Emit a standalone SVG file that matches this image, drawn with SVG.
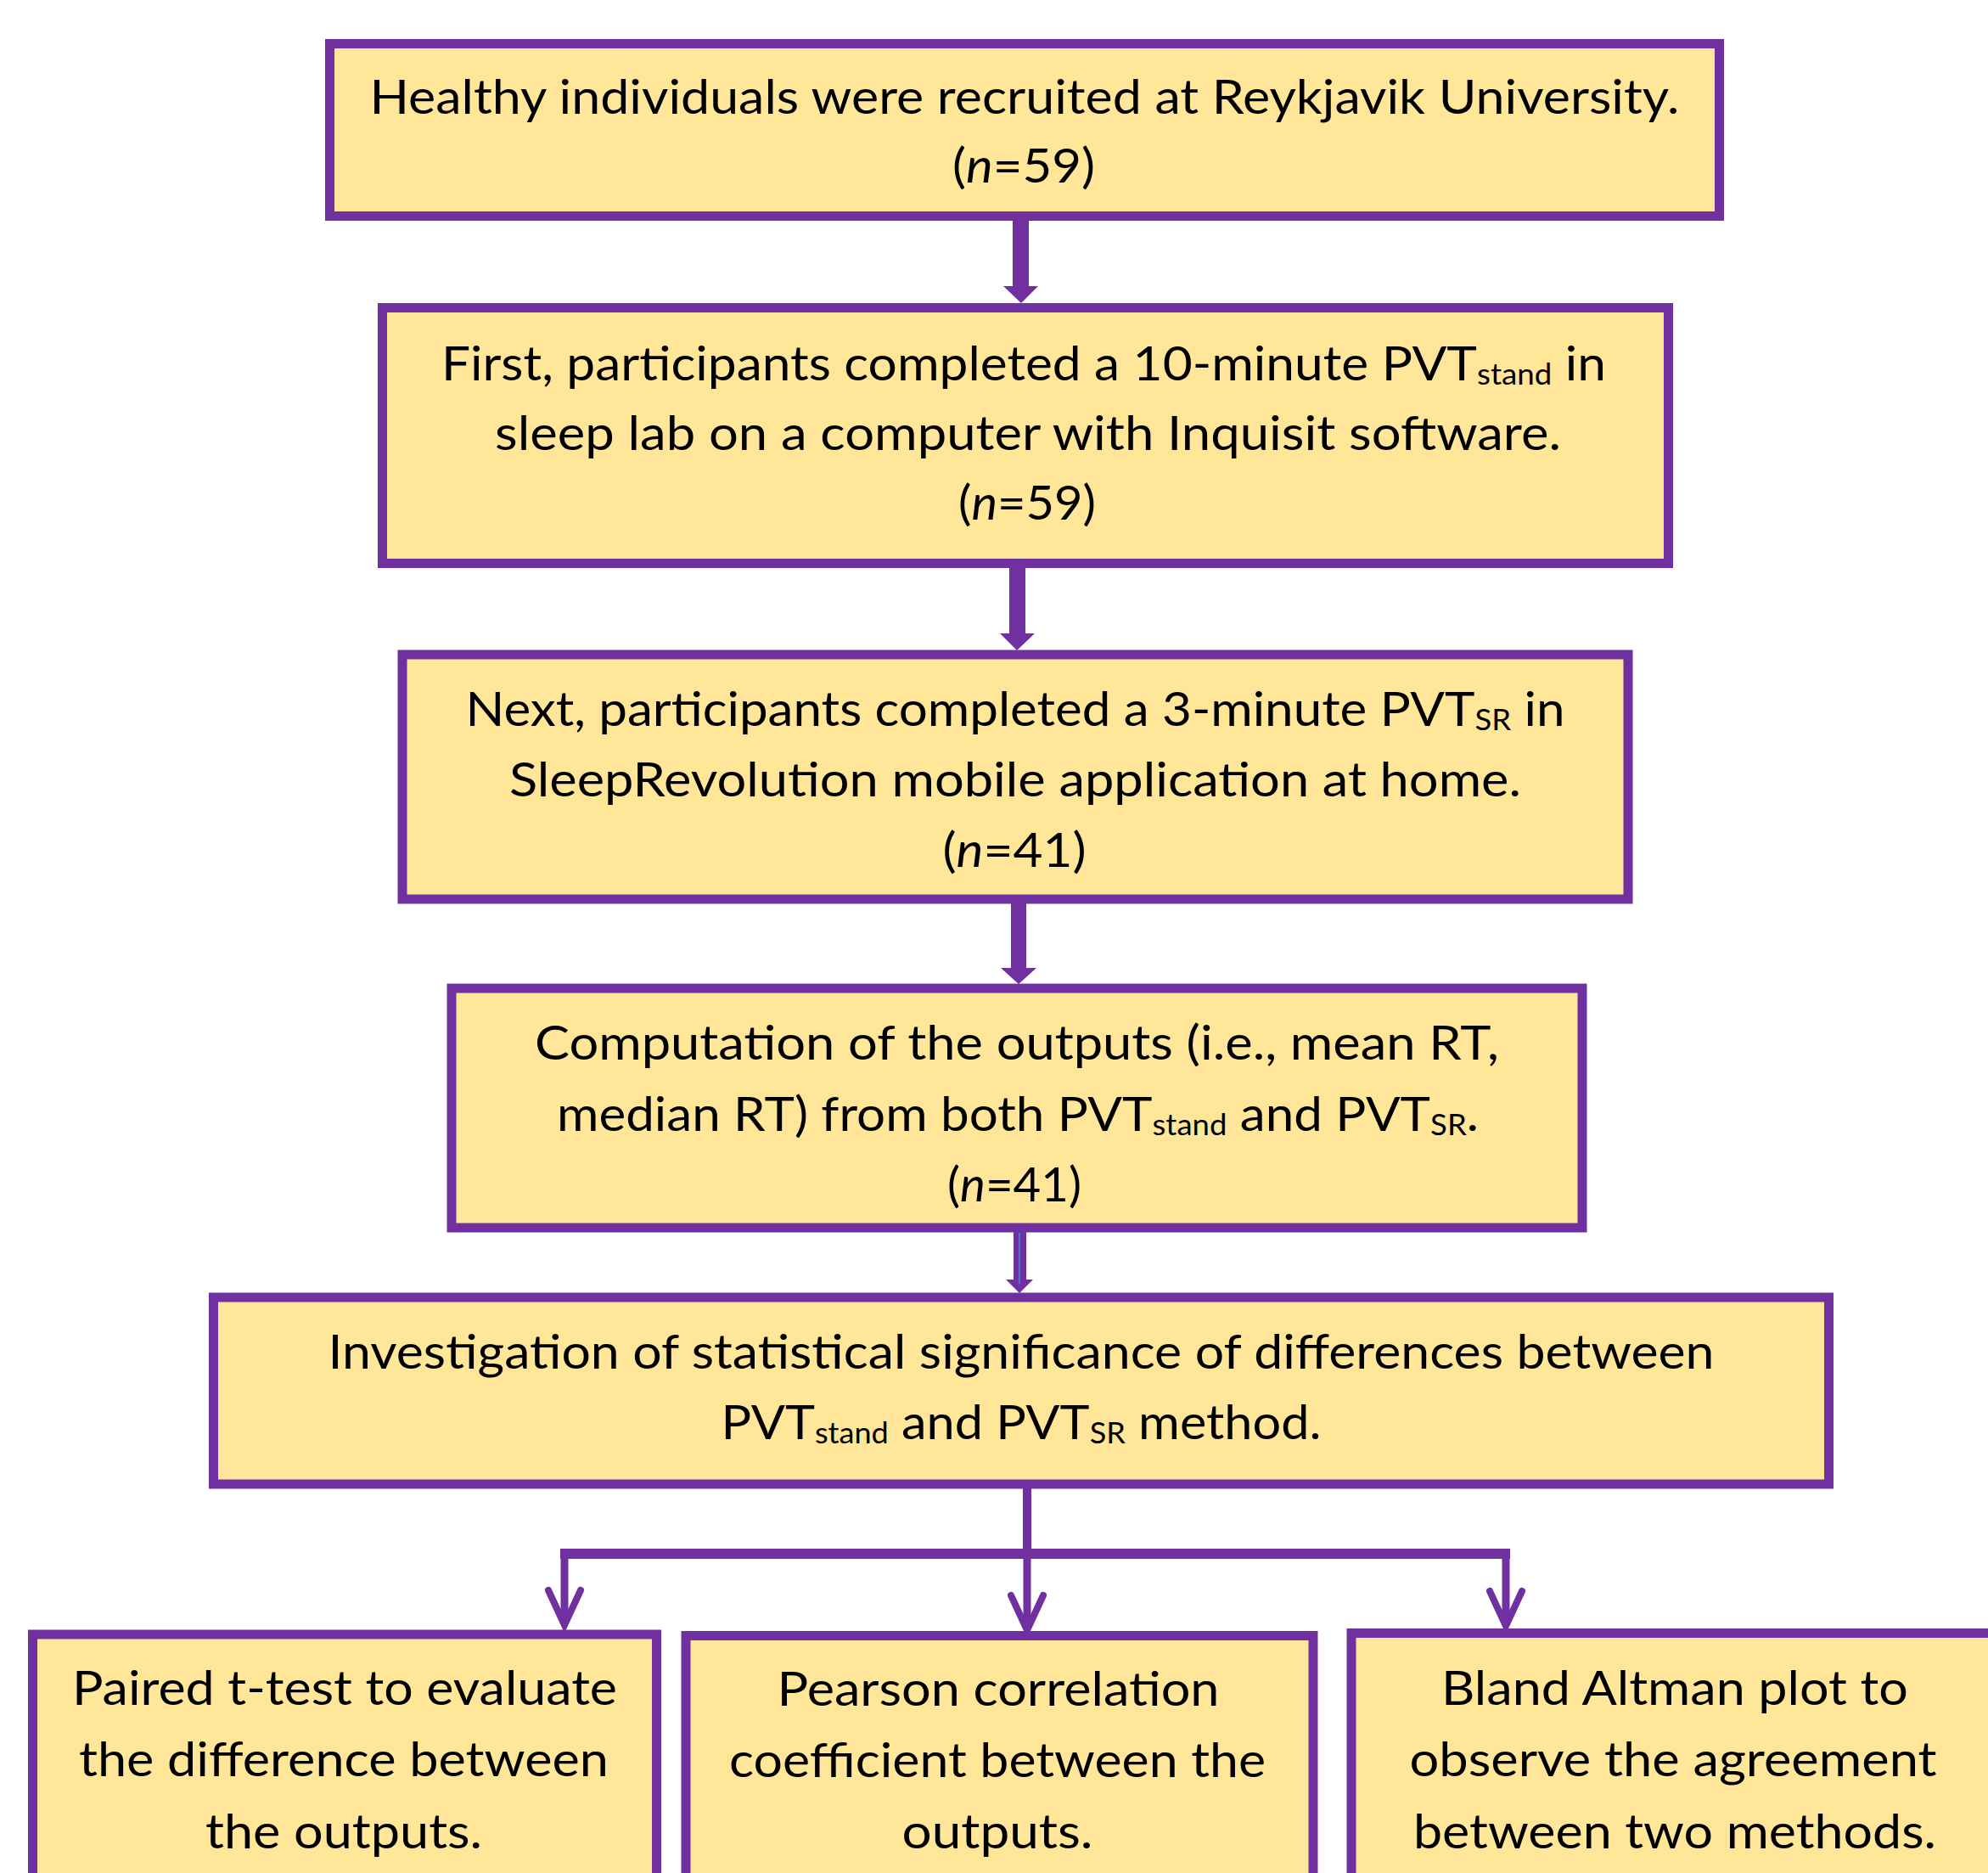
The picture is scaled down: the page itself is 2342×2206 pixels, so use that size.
<svg xmlns="http://www.w3.org/2000/svg" width="2342" height="2206" viewBox="0 0 2342 2206">
<style>
.box{fill:#FFE699;stroke:#7030A0;stroke-width:11}
.t{font-family:Lato,"Liberation Sans",sans-serif;font-size:56px;fill:#000;text-anchor:middle}
.sub{font-size:34px}
.i{font-style:italic}
.arr{fill:#7030A0}
.ln{stroke:#7030A0;fill:none}
.vh{stroke:#7030A0;stroke-width:8;fill:none;stroke-linecap:round;stroke-linejoin:miter}
</style>
<rect width="2342" height="2206" fill="#fff"/>
<g id="connectors">
<polygon class="arr" points="1193,259 1212,259 1212,337 1223,337 1203,357 1182,337 1193,337"/>
<polygon class="arr" points="1189,668 1208,668 1208,746 1219,746 1198,766 1178,746 1189,746"/>
<polygon class="arr" points="1191,1064 1209,1064 1209,1140 1221,1140 1200,1159 1179,1140 1191,1140"/>
<polygon class="arr" points="1194,1451 1209,1451 1209,1507 1217,1507 1201,1523 1185,1507 1194,1507"/>
<line x1="1201" y1="1452" x2="1201" y2="1512" stroke="#3d8ee0" stroke-width="1.5"/>
<line class="ln" x1="1210" y1="1752" x2="1210" y2="1830" stroke-width="10"/>
<line class="ln" x1="660" y1="1830" x2="1779" y2="1830" stroke-width="12"/>
<line class="ln" x1="665" y1="1830" x2="665" y2="1912" stroke-width="9"/>
<line class="ln" x1="1210" y1="1830" x2="1210" y2="1918" stroke-width="9"/>
<line class="ln" x1="1774" y1="1830" x2="1774" y2="1913" stroke-width="9"/>
<path class="vh" d="M646,1873 L665,1914 L684,1873"/>
<path class="vh" d="M1191,1879 L1210,1920 L1229,1879"/>
<path class="vh" d="M1755,1874 L1774,1915 L1793,1874"/>
</g>
<g id="node1">
<rect class="box" x="388.5" y="51.5" width="1637" height="203"/>
<text class="t" x="1207" y="134" textLength="1543" lengthAdjust="spacingAndGlyphs">Healthy individuals were recruited at Reykjavik University.</text>
<text class="t" x="1206" y="215" textLength="168" lengthAdjust="spacingAndGlyphs">(<tspan class="i">n</tspan>=59)</text>
</g>
<g id="node2">
<rect class="box" x="450.5" y="362.5" width="1515" height="301"/>
<text class="t" x="1206" y="448" textLength="1372" lengthAdjust="spacingAndGlyphs">First, participants completed a 10-minute PVT<tspan class="sub" dy="5">stand</tspan><tspan dy="-5"> in</tspan></text>
<text class="t" x="1211" y="530" textLength="1256" lengthAdjust="spacingAndGlyphs">sleep lab on a computer with Inquisit software.</text>
<text class="t" x="1210" y="612" textLength="162" lengthAdjust="spacingAndGlyphs">(<tspan class="i">n</tspan>=59)</text>
</g>
<g id="node3">
<rect class="box" x="474" y="771" width="1444" height="288"/>
<text class="t" x="1196" y="855" textLength="1295" lengthAdjust="spacingAndGlyphs">Next, participants completed a 3-minute PVT<tspan class="sub" dy="5">SR</tspan><tspan dy="-5"> in</tspan></text>
<text class="t" x="1196" y="938" textLength="1192" lengthAdjust="spacingAndGlyphs">SleepRevolution mobile application at home.</text>
<text class="t" x="1195" y="1021" textLength="169" lengthAdjust="spacingAndGlyphs">(<tspan class="i">n</tspan>=41)</text>
</g>
<g id="node4">
<rect class="box" x="532" y="1164" width="1332" height="282"/>
<text class="t" x="1198" y="1248" textLength="1136" lengthAdjust="spacingAndGlyphs">Computation of the outputs (i.e., mean RT,</text>
<text class="t" x="1199" y="1332" textLength="1086" lengthAdjust="spacingAndGlyphs">median RT) from both PVT<tspan class="sub" dy="5">stand</tspan><tspan dy="-5"> and PVT</tspan><tspan class="sub" dy="5">SR</tspan><tspan dy="-5">.</tspan></text>
<text class="t" x="1195" y="1415" textLength="158" lengthAdjust="spacingAndGlyphs">(<tspan class="i">n</tspan>=41)</text>
</g>
<g id="node5">
<rect class="box" x="251.5" y="1528" width="1903" height="220"/>
<text class="t" x="1203" y="1612" textLength="1633" lengthAdjust="spacingAndGlyphs">Investigation of statistical significance of differences between</text>
<text class="t" x="1203" y="1695" textLength="707" lengthAdjust="spacingAndGlyphs">PVT<tspan class="sub" dy="5">stand</tspan><tspan dy="-5"> and PVT</tspan><tspan class="sub" dy="5">SR</tspan><tspan dy="-5"> method.</tspan></text>
</g>
<g id="node6">
<rect class="box" x="38.5" y="1925" width="735" height="320"/>
<text class="t" x="406" y="2008" textLength="642" lengthAdjust="spacingAndGlyphs">Paired t-test to evaluate</text>
<text class="t" x="405" y="2092" textLength="624" lengthAdjust="spacingAndGlyphs">the difference between</text>
<text class="t" x="405" y="2177" textLength="326" lengthAdjust="spacingAndGlyphs">the outputs.</text>
</g>
<g id="node7">
<rect class="box" x="808" y="1926.5" width="739" height="320"/>
<text class="t" x="1176" y="2009" textLength="521" lengthAdjust="spacingAndGlyphs">Pearson correlation</text>
<text class="t" x="1175" y="2093" textLength="632" lengthAdjust="spacingAndGlyphs">coefficient between the</text>
<text class="t" x="1175" y="2177" textLength="225" lengthAdjust="spacingAndGlyphs">outputs.</text>
</g>
<g id="node8">
<rect class="box" x="1592" y="1923.5" width="780" height="320"/>
<text class="t" x="1973" y="2008" textLength="550" lengthAdjust="spacingAndGlyphs">Bland Altman plot to</text>
<text class="t" x="1971" y="2092" textLength="621" lengthAdjust="spacingAndGlyphs">observe the agreement</text>
<text class="t" x="1973" y="2177" textLength="616" lengthAdjust="spacingAndGlyphs">between two methods.</text>
</g>
</svg>
